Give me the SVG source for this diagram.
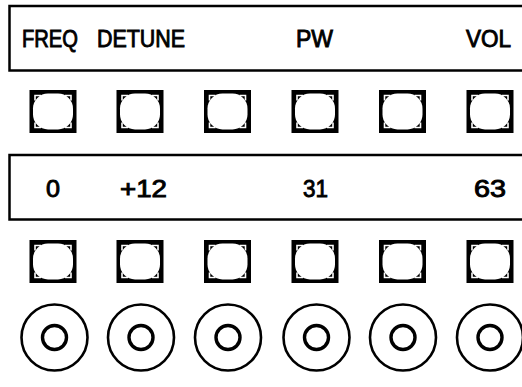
<svg xmlns="http://www.w3.org/2000/svg" xmlns:xlink="http://www.w3.org/1999/xlink" width="522" height="387" viewBox="0 0 522 387">
<style>
.panel{fill:#fff;stroke:#000;stroke-width:2.5}
.lbl{font-family:"Liberation Sans",Arial,sans-serif;font-weight:normal;font-size:23.5px;fill:#000;stroke:#000;stroke-width:0.9}
.tick{fill:none;stroke:#fff;stroke-width:1.6}
.ko{fill:#fff;stroke:#000;stroke-width:2.6}
.ki{fill:#fff;stroke:#000;stroke-width:3.4}
</style>
<defs>
<g id="btn">
<rect x="-23.5" y="-21.5" width="47" height="43" fill="#000"/>
<rect x="-20" y="-18" width="40" height="36" rx="15" ry="15" fill="#fff"/>
<path class="tick" d="M-18,-11V-16H-12 M18,-11V-16H12 M-18,11V16H-12 M18,11V16H12"/>
</g>
<g id="knob">
<circle class="ko" r="33"/>
<circle class="ki" r="12"/>
</g>
</defs>
<g id="label-panel">
<path class="panel" d="M530,6H9.5V70.5H530"/>
<text class="lbl" x="22" y="46.5" textLength="56" lengthAdjust="spacingAndGlyphs">FREQ</text>
<text class="lbl" x="97" y="46.5" textLength="88" lengthAdjust="spacingAndGlyphs">DETUNE</text>
<text class="lbl" x="296" y="46.5" textLength="37" lengthAdjust="spacingAndGlyphs">PW</text>
<text class="lbl" x="466" y="46.5" textLength="45" lengthAdjust="spacingAndGlyphs">VOL</text>
</g>
<g id="top-buttons">
<use xlink:href="#btn" x="53" y="111.5"/>
<use xlink:href="#btn" x="140" y="111.5"/>
<use xlink:href="#btn" x="227.5" y="111.5"/>
<use xlink:href="#btn" x="315" y="111.5"/>
<use xlink:href="#btn" x="402.5" y="111.5"/>
<use xlink:href="#btn" x="490" y="111.5"/>
</g>
<g id="value-panel">
<path class="panel" d="M530,155H9.5V219.5H530"/>
<text class="lbl" x="46" y="196.5" textLength="14" lengthAdjust="spacingAndGlyphs">0</text>
<text class="lbl" x="120" y="196.5" textLength="47" lengthAdjust="spacingAndGlyphs">+12</text>
<text class="lbl" x="303" y="196.5" textLength="25" lengthAdjust="spacingAndGlyphs">31</text>
<text class="lbl" x="474" y="196.5" textLength="32" lengthAdjust="spacingAndGlyphs">63</text>
</g>
<g id="bottom-buttons">
<use xlink:href="#btn" x="53" y="261.5"/>
<use xlink:href="#btn" x="140" y="261.5"/>
<use xlink:href="#btn" x="227.5" y="261.5"/>
<use xlink:href="#btn" x="315" y="261.5"/>
<use xlink:href="#btn" x="402.5" y="261.5"/>
<use xlink:href="#btn" x="490" y="261.5"/>
</g>
<g id="knobs">
<use xlink:href="#knob" x="54.5" y="337.5"/>
<use xlink:href="#knob" x="141" y="337.5"/>
<use xlink:href="#knob" x="228" y="337.5"/>
<use xlink:href="#knob" x="316.5" y="337.5"/>
<use xlink:href="#knob" x="403" y="337.5"/>
<use xlink:href="#knob" x="490" y="337.5"/>
</g>
<g id="connectors"/>
</svg>
